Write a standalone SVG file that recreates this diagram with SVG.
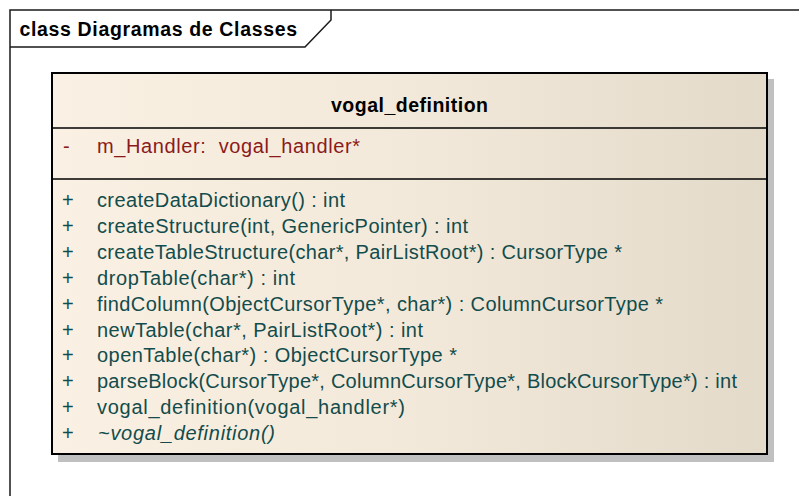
<svg xmlns="http://www.w3.org/2000/svg" width="799" height="496" viewBox="0 0 799 496">
  <defs>
    <linearGradient id="classFill" x1="0" y1="0" x2="1" y2="0">
      <stop offset="0" stop-color="#faf0e3"/>
      <stop offset="0.5" stop-color="#f3e9da"/>
      <stop offset="1" stop-color="#e3daca"/>
    </linearGradient>
    <style>
      .frame { fill: #ffffff; stroke: #1a1a1a; stroke-width: 1.5; }
      .frame-title { font-family: "Liberation Sans", Arial, sans-serif; font-size: 19.5px; font-weight: bold; fill: #000000; }
      .box { fill: url(#classFill); stroke: #000000; stroke-width: 2; }
      .shadow { fill: #c0c0c0; }
      .sep { stroke: #000000; stroke-width: 1.5; }
      .name { font-family: "Liberation Sans", Arial, sans-serif; font-size: 19.5px; font-weight: bold; fill: #000000; }
      .attr { font-family: "Liberation Sans", Arial, sans-serif; font-size: 20px; fill: #8b1a1a; white-space: pre; }
      .op { font-family: "Liberation Sans", Arial, sans-serif; font-size: 20px; fill: #124c4c; }
      .abstract { font-style: italic; }
    </style>
  </defs>

  <rect width="799" height="496" fill="#ffffff"/>

  <!-- package frame -->
  <g id="frame">
    <rect class="frame" x="10" y="10" width="800" height="500"/>
    <path d="M10 47 H305 L331 20 V10" fill="none" stroke="#1a1a1a" stroke-width="1.5"/>
    <text class="frame-title" x="19.5" y="36" textLength="277.5" lengthAdjust="spacing">class Diagramas de Classes</text>
  </g>

  <g id="connectors"></g>

  <!-- class vogal_definition -->
  <g id="vogal_definition">
    <rect class="shadow" x="58" y="79" width="716" height="383"/>
    <rect class="box" x="52" y="73" width="715" height="381"/>
    <line class="sep" x1="52" y1="128" x2="767" y2="128"/>
    <line class="sep" x1="52" y1="179" x2="767" y2="179"/>

    <text class="name" x="331" y="111.5" textLength="157" lengthAdjust="spacing">vogal_definition</text>

    <text class="attr" x="63" y="153">-</text>
    <text class="attr" x="97" y="153" textLength="263" lengthAdjust="spacing">m_Handler:  vogal_handler*</text>

    <g class="op">
      <text x="62" y="207">+</text>
      <text x="97" y="207" textLength="248" lengthAdjust="spacing">createDataDictionary() : int</text>
      <text x="62" y="232.9">+</text>
      <text x="97" y="232.9" textLength="371" lengthAdjust="spacing">createStructure(int, GenericPointer) : int</text>
      <text x="62" y="258.8">+</text>
      <text x="97" y="258.8" textLength="525" lengthAdjust="spacing">createTableStructure(char*, PairListRoot*) : CursorType *</text>
      <text x="62" y="284.7">+</text>
      <text x="97" y="284.7" textLength="198" lengthAdjust="spacing">dropTable(char*) : int</text>
      <text x="62" y="310.6">+</text>
      <text x="97" y="310.6" textLength="566" lengthAdjust="spacing">findColumn(ObjectCursorType*, char*) : ColumnCursorType *</text>
      <text x="62" y="336.5">+</text>
      <text x="97" y="336.5" textLength="326" lengthAdjust="spacing">newTable(char*, PairListRoot*) : int</text>
      <text x="62" y="362.4">+</text>
      <text x="97" y="362.4" textLength="360" lengthAdjust="spacing">openTable(char*) : ObjectCursorType *</text>
      <text x="62" y="388.3">+</text>
      <text x="97" y="388.3" textLength="640" lengthAdjust="spacing">parseBlock(CursorType*, ColumnCursorType*, BlockCursorType*) : int</text>
      <text x="62" y="414.2">+</text>
      <text x="97" y="414.2" textLength="308" lengthAdjust="spacing">vogal_definition(vogal_handler*)</text>
      <text x="62" y="440.1">+</text>
      <text class="abstract" x="98" y="440.1" textLength="177" lengthAdjust="spacing">~vogal_definition()</text>
    </g>
  </g>
</svg>
